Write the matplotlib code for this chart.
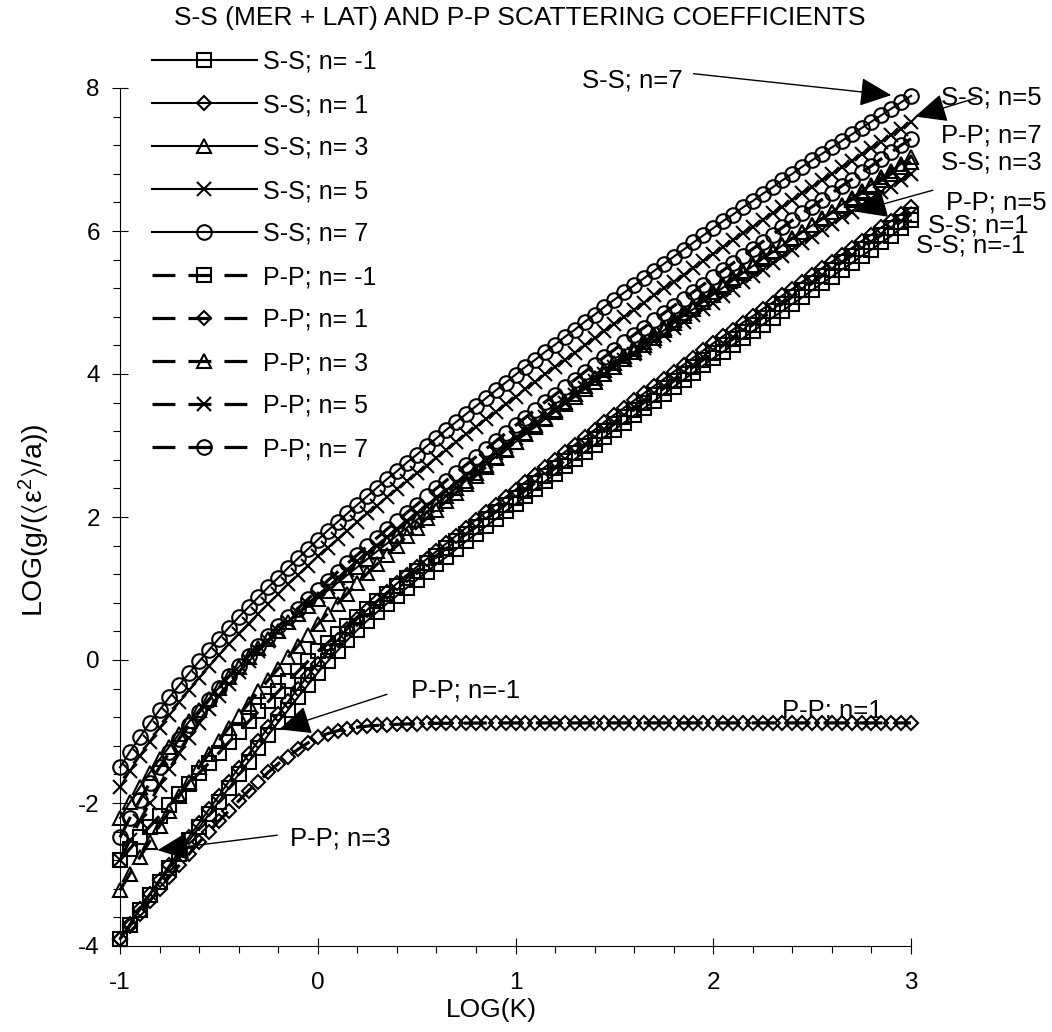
import numpy as np
import matplotlib
matplotlib.use('Agg')
import matplotlib.pyplot as plt
from matplotlib.ticker import MultipleLocator

plt.rcParams['font.family'] = ['Liberation Sans', 'DejaVu Sans']
plt.rcParams['axes.unicode_minus'] = False
plt.rcParams['lines.scale_dashes'] = False
plt.rcParams['mathtext.fontset'] = 'custom'
plt.rcParams['mathtext.rm'] = 'Liberation Sans'
plt.rcParams['mathtext.it'] = 'Liberation Sans:italic'
plt.rcParams['mathtext.fallback'] = 'stixsans'

# LOG(K) sampling grid (81 points, step 0.05)
log_k = np.linspace(-1.0, 3.0, 81)

ss_m1 = [-3.9, -3.7, -3.5, -3.29, -3.1, -2.91, -2.72, -2.52, -2.34, -2.16,
         -1.98, -1.79, -1.6, -1.42, -1.23, -1.05, -0.87, -0.7, -0.52, -0.35,
         -0.18, -0.02, 0.13, 0.28, 0.42, 0.55, 0.67, 0.79, 0.9, 1.01,
         1.12, 1.23, 1.34, 1.44, 1.55, 1.66, 1.76, 1.87, 1.97, 2.08,
         2.18, 2.29, 2.39, 2.5, 2.6, 2.71, 2.81, 2.91, 3.01, 3.12,
         3.22, 3.32, 3.42, 3.52, 3.62, 3.72, 3.82, 3.92, 4.02, 4.12,
         4.22, 4.31, 4.41, 4.5, 4.6, 4.69, 4.79, 4.88, 4.98, 5.07,
         5.17, 5.27, 5.36, 5.46, 5.55, 5.65, 5.74, 5.84, 5.93, 6.04,
         6.15]

ss_1 = [-3.9, -3.69, -3.48, -3.27, -3.07, -2.87, -2.67, -2.47, -2.28, -2.09,
        -1.9, -1.7, -1.51, -1.32, -1.13, -0.94, -0.76, -0.58, -0.4, -0.22,
        -0.05, 0.12, 0.28, 0.43, 0.57, 0.7, 0.83, 0.95, 1.07, 1.19,
        1.3, 1.41, 1.52, 1.63, 1.74, 1.85, 1.96, 2.07, 2.17, 2.28,
        2.38, 2.49, 2.59, 2.7, 2.8, 2.91, 3.01, 3.12, 3.22, 3.33,
        3.43, 3.53, 3.63, 3.73, 3.83, 3.93, 4.03, 4.13, 4.23, 4.33,
        4.43, 4.53, 4.62, 4.72, 4.81, 4.91, 5.0, 5.1, 5.19, 5.29,
        5.38, 5.48, 5.57, 5.67, 5.76, 5.86, 5.95, 6.05, 6.14, 6.24,
        6.33]

ss_3 = [-2.21, -1.99, -1.78, -1.58, -1.39, -1.21, -1.03, -0.86, -0.7, -0.54,
        -0.39, -0.24, -0.1, 0.04, 0.17, 0.29, 0.41, 0.53, 0.64, 0.75,
        0.86, 0.97, 1.08, 1.19, 1.3, 1.41, 1.52, 1.63, 1.74, 1.85,
        1.96, 2.07, 2.18, 2.29, 2.4, 2.51, 2.62, 2.73, 2.84, 2.95,
        3.05, 3.16, 3.26, 3.37, 3.47, 3.58, 3.68, 3.79, 3.89, 4.0,
        4.1, 4.21, 4.31, 4.41, 4.51, 4.61, 4.71, 4.81, 4.91, 5.01,
        5.11, 5.21, 5.31, 5.41, 5.51, 5.61, 5.7, 5.8, 5.89, 5.99,
        6.08, 6.18, 6.27, 6.37, 6.46, 6.56, 6.65, 6.75, 6.84, 6.94,
        7.03]

ss_5 = [-1.78, -1.55, -1.34, -1.14, -0.95, -0.77, -0.59, -0.42, -0.25, -0.09,
        0.07, 0.22, 0.37, 0.51, 0.65, 0.79, 0.92, 1.06, 1.19, 1.32,
        1.45, 1.57, 1.69, 1.81, 1.93, 2.05, 2.16, 2.28, 2.39, 2.5,
        2.61, 2.72, 2.83, 2.94, 3.05, 3.16, 3.26, 3.37, 3.47, 3.58,
        3.68, 3.79, 3.89, 4.0, 4.1, 4.2, 4.3, 4.4, 4.5, 4.6,
        4.7, 4.8, 4.9, 5.0, 5.1, 5.2, 5.29, 5.39, 5.48, 5.58,
        5.68, 5.78, 5.87, 5.97, 6.06, 6.16, 6.25, 6.34, 6.43, 6.53,
        6.62, 6.71, 6.8, 6.89, 6.98, 7.07, 7.16, 7.25, 7.34, 7.43,
        7.52]

ss_7 = [-1.5, -1.28, -1.08, -0.88, -0.7, -0.52, -0.35, -0.18, -0.02, 0.14,
        0.3, 0.45, 0.6, 0.74, 0.88, 1.02, 1.15, 1.29, 1.42, 1.55,
        1.68, 1.81, 1.93, 2.05, 2.17, 2.29, 2.41, 2.53, 2.64, 2.76,
        2.87, 2.99, 3.1, 3.22, 3.33, 3.44, 3.55, 3.66, 3.77, 3.88,
        3.99, 4.1, 4.2, 4.31, 4.41, 4.52, 4.62, 4.73, 4.83, 4.94,
        5.04, 5.14, 5.24, 5.34, 5.44, 5.54, 5.64, 5.74, 5.84, 5.94,
        6.04, 6.14, 6.23, 6.33, 6.42, 6.52, 6.61, 6.71, 6.8, 6.9,
        6.99, 7.08, 7.17, 7.26, 7.35, 7.44, 7.53, 7.62, 7.71, 7.8,
        7.89]

pp_m1 = [-2.8, -2.64, -2.48, -2.33, -2.18, -2.03, -1.88, -1.73, -1.58, -1.44,
         -1.3, -1.15, -1.01, -0.86, -0.72, -0.58, -0.44, -0.3, -0.16, -0.02,
         0.12, 0.24, 0.36, 0.48, 0.6, 0.71, 0.82, 0.93, 1.04, 1.15,
         1.25, 1.35, 1.46, 1.56, 1.66, 1.76, 1.86, 1.97, 2.07, 2.17,
         2.27, 2.37, 2.48, 2.58, 2.68, 2.79, 2.89, 2.99, 3.09, 3.2,
         3.3, 3.4, 3.5, 3.6, 3.7, 3.8, 3.9, 4.0, 4.1, 4.2,
         4.3, 4.4, 4.49, 4.59, 4.69, 4.79, 4.88, 4.98, 5.08, 5.17,
         5.27, 5.37, 5.46, 5.56, 5.65, 5.75, 5.85, 5.94, 6.04, 6.13,
         6.23]

pp_1 = [-3.9, -3.72, -3.55, -3.37, -3.2, -3.03, -2.87, -2.71, -2.55, -2.4,
        -2.25, -2.11, -1.97, -1.83, -1.7, -1.57, -1.45, -1.35, -1.25, -1.16,
        -1.08, -1.03, -0.99, -0.96, -0.94, -0.925, -0.915, -0.905, -0.9, -0.895,
        -0.89, -0.888, -0.886, -0.885, -0.884, -0.883, -0.882, -0.881, -0.88, -0.88,
        -0.88, -0.88, -0.88, -0.88, -0.88, -0.88, -0.88, -0.88, -0.88, -0.88,
        -0.88, -0.88, -0.88, -0.88, -0.88, -0.88, -0.88, -0.88, -0.88, -0.88,
        -0.88, -0.88, -0.88, -0.88, -0.88, -0.88, -0.88, -0.88, -0.88, -0.88,
        -0.88, -0.88, -0.88, -0.88, -0.88, -0.88, -0.88, -0.88, -0.88, -0.88,
        -0.88]

pp_3 = [-3.22, -2.99, -2.76, -2.54, -2.32, -2.11, -1.9, -1.7, -1.5, -1.31,
        -1.13, -0.95, -0.78, -0.61, -0.44, -0.28, -0.12, 0.04, 0.2, 0.35,
        0.5, 0.65, 0.79, 0.93, 1.07, 1.21, 1.34, 1.47, 1.6, 1.73,
        1.85, 1.98, 2.1, 2.22, 2.34, 2.46, 2.58, 2.7, 2.82, 2.94,
        3.05, 3.17, 3.28, 3.39, 3.5, 3.61, 3.72, 3.83, 3.94, 4.05,
        4.15, 4.25, 4.35, 4.45, 4.55, 4.65, 4.75, 4.85, 4.95, 5.05,
        5.15, 5.25, 5.34, 5.44, 5.53, 5.63, 5.72, 5.81, 5.9, 5.99,
        6.08, 6.17, 6.26, 6.35, 6.44, 6.53, 6.62, 6.71, 6.8, 6.89,
        6.97]

pp_5 = [-2.8, -2.52, -2.25, -2.0, -1.75, -1.52, -1.3, -1.09, -0.88, -0.69,
        -0.5, -0.33, -0.17, -0.02, 0.13, 0.27, 0.4, 0.53, 0.66, 0.78,
        0.9, 1.02, 1.14, 1.26, 1.38, 1.49, 1.6, 1.72, 1.83, 1.94,
        2.05, 2.16, 2.26, 2.37, 2.47, 2.58, 2.68, 2.79, 2.89, 3.0,
        3.1, 3.2, 3.3, 3.4, 3.5, 3.6, 3.7, 3.8, 3.9, 4.0,
        4.1, 4.19, 4.28, 4.37, 4.46, 4.55, 4.64, 4.73, 4.82, 4.91,
        5.0, 5.09, 5.18, 5.28, 5.37, 5.46, 5.55, 5.65, 5.74, 5.83,
        5.92, 6.01, 6.1, 6.19, 6.27, 6.36, 6.45, 6.54, 6.62, 6.71,
        6.8]

pp_7 = [-2.48, -2.21, -1.96, -1.72, -1.5, -1.29, -1.1, -0.91, -0.73, -0.56,
        -0.39, -0.23, -0.08, 0.06, 0.2, 0.34, 0.47, 0.6, 0.72, 0.85,
        0.98, 1.11, 1.23, 1.35, 1.47, 1.59, 1.71, 1.83, 1.94, 2.06,
        2.17, 2.29, 2.4, 2.51, 2.62, 2.73, 2.84, 2.95, 3.06, 3.17,
        3.28, 3.39, 3.5, 3.61, 3.71, 3.82, 3.92, 4.03, 4.13, 4.24,
        4.34, 4.45, 4.55, 4.65, 4.75, 4.85, 4.95, 5.05, 5.15, 5.25,
        5.35, 5.45, 5.55, 5.65, 5.75, 5.85, 5.95, 6.05, 6.15, 6.25,
        6.34, 6.44, 6.53, 6.63, 6.72, 6.82, 6.91, 7.01, 7.1, 7.2,
        7.29]

series_labels = ["S-S; n= -1", "S-S; n= 1", "S-S; n= 3", "S-S; n= 5", "S-S; n= 7",
                 "P-P; n= -1", "P-P; n= 1", "P-P; n= 3", "P-P; n= 5", "P-P; n= 7"]
series_values = [ss_m1, ss_1, ss_3, ss_5, ss_7, pp_m1, pp_1, pp_3, pp_5, pp_7]
series_markers = ['s', 'D', '^', 'x', 'o', 's', 'D', '^', 'x', 'o']
series_dashed = [False] * 5 + [True] * 5
marker_sizes = {'s': 9.5, 'D': 6.8, '^': 10.5, 'x': 10.5, 'o': 10.5}

# annotation texts: (text, x, y)
callouts = [("S-S; n=7", 1.59, 8.11), ("S-S; n=5", 3.405, 7.87), ("P-P; n=7", 3.405, 7.33),
            ("S-S; n=3", 3.405, 6.96), ("P-P; n=5", 3.43, 6.40), ("S-S; n=1", 3.34, 6.08),
            ("S-S; n=-1", 3.30, 5.80), ("P-P; n=-1", 0.747, -0.43), ("P-P; n=3", 0.114, -2.50)]
# arrows: (start_x, start_y, tip_x, tip_y)
arrows = [(1.90, 8.20, 2.90, 7.90), (3.33, 7.86, 3.02, 7.60), (3.11, 6.57, 2.72, 6.27),
          (0.35, -0.48, -0.195, -0.97), (-0.205, -2.45, -0.81, -2.66)]

fig = plt.figure(figsize=(10.52, 10.32), dpi=100)
ax = fig.add_axes([120 / 1052, 86 / 1032, 791 / 1052, 858 / 1032])

for lab, vals, mk, dashed in zip(series_labels, series_values, series_markers, series_dashed):
    line, = ax.plot(log_k, vals, color='black', lw=2.3 if dashed else 1.5,
                    marker=mk, ms=marker_sizes[mk], mfc='none', mec='black', mew=1.5,
                    label=lab, clip_on=False, zorder=3)
    if dashed:
        line.set_dashes((16.5, 9.4))

ax.set_xlim(-1, 3)
ax.set_ylim(-4, 8)
ax.xaxis.set_major_locator(MultipleLocator(1))
ax.xaxis.set_minor_locator(MultipleLocator(0.2))
ax.yaxis.set_major_locator(MultipleLocator(2))
ax.yaxis.set_minor_locator(MultipleLocator(0.4))
ax.tick_params(which='major', direction='inout', length=11.5, width=0.8, labelsize=17.5)
ax.tick_params(axis='y', which='major', pad=8.8)
ax.tick_params(axis='x', which='major', pad=13)
ax.tick_params(which='minor', direction='out', length=5, width=0.8)
for s in ('top', 'right'):
    ax.spines[s].set_visible(False)
for s in ('left', 'bottom'):
    ax.spines[s].set_linewidth(0.8)

ax.set_xlabel('LOG(K)', fontsize=19, va='center')
ax.xaxis.set_label_coords(0.4696, -0.0746)
ax.set_ylabel(r'LOG(g/($\langle$ε$^{2}\rangle$/a))', fontsize=20.5, va='center')
ax.yaxis.set_label_coords(-0.1076, 0.4965)
ax.set_title('S-S (MER + LAT) AND P-P SCATTERING COEFFICIENTS', fontsize=19,
             x=0.506, y=1.0816, va='center', pad=0)

for txt, tx, ty in callouts:
    ax.text(tx, ty, txt, fontsize=18.5, ha='center', va='center', clip_on=False, zorder=4)
ax.text(2.6, -0.71, "P-P; n=1", fontsize=18.5, ha='center', va='center', clip_on=False, zorder=1)

for sx, sy, ex, ey in arrows:
    ax.annotate('', xy=(ex, ey), xytext=(sx, sy), textcoords='data', annotation_clip=False,
                arrowprops=dict(arrowstyle='-|>,head_length=1.1,head_width=0.5', mutation_scale=18,
                                lw=1.0, color='black', shrinkA=0, shrinkB=0), zorder=5)

ax.legend(loc='upper left', bbox_to_anchor=(152 / 1052, 1 - 50 / 1032), bbox_transform=fig.transFigure,
          frameon=False, fontsize=18, handlelength=4.2, handletextpad=0.25, labelspacing=0.76,
          borderpad=0, borderaxespad=0, numpoints=1)

fig.savefig('out.png', dpi=100)
